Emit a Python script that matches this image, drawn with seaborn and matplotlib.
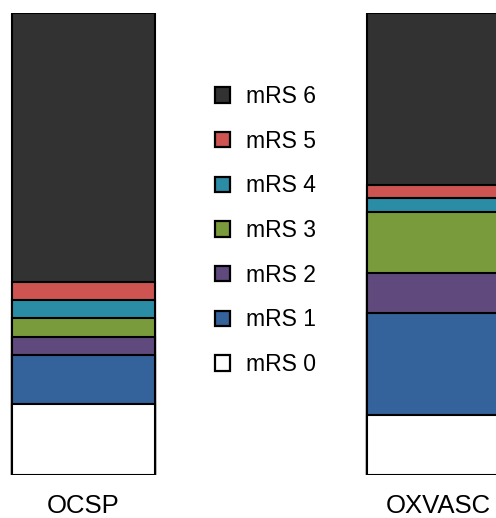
import matplotlib
matplotlib.use("Agg")
import matplotlib.pyplot as plt
from matplotlib.patches import Patch
import seaborn as sns
import pandas as pd
import numpy as np

groups = ["OCSP", "OXVASC"]
levels = ["mRS 0", "mRS 1", "mRS 2", "mRS 3", "mRS 4", "mRS 5", "mRS 6"]
ocsp = [15.4, 10.6, 3.9, 4.1, 3.9, 3.9, 58.2]
oxvasc = [13.0, 22.1, 8.7, 13.2, 3.0, 2.8, 37.2]
colors = ["#ffffff", "#34629b", "#604a7d", "#7a9b3b", "#2b8ca6", "#cd5451", "#323232"]

sns.set_theme(style="white")
plt.rcParams["font.family"] = ["Liberation Sans", "DejaVu Sans"]
plt.rcParams["text.color"] = "black"
plt.rcParams["xtick.color"] = "black"
plt.rcParams["xtick.labelcolor"] = "black"

fig = plt.figure(figsize=(4.96, 5.18), dpi=100)
ax = fig.add_axes([0, (518 - 475) / 518, 1, 462 / 518])

cum_o = np.cumsum(ocsp)
cum_x = np.cumsum(oxvasc)
# draw from top level down so each lower segment overlays
for i in range(len(levels) - 1, -1, -1):
    df = pd.DataFrame({"group": groups, "value": [cum_o[i], cum_x[i]]})
    sns.barplot(data=df, x="group", y="value", color=colors[i], width=0.403,
                edgecolor="black", linewidth=1.5, saturation=1, ax=ax)

ax.set_ylim(0, 100)
ax.set_xlim(-83.5 / 355, (496 - 83.5) / 355)
ax.set_xlabel("")
ax.set_ylabel("")
ax.set_yticks([])
for s in ax.spines.values():
    s.set_visible(False)
ax.tick_params(axis="x", length=0, pad=14, labelsize=18.5, labelcolor="black")

handles = [Patch(facecolor=colors[i], edgecolor="black", linewidth=1.6, label=levels[i])
           for i in range(len(levels) - 1, -1, -1)]
leg = fig.legend(handles=handles, loc="upper left",
                 bbox_to_anchor=(215 / 496, 1 - 85 / 518), frameon=False,
                 fontsize=16.5, handlelength=0.655, handleheight=0.655,
                 handletextpad=0.70, labelspacing=0.945, borderpad=0, borderaxespad=0)
for t in leg.get_texts():
    t.set_color("black")

fig.savefig("out.png", dpi=100)
